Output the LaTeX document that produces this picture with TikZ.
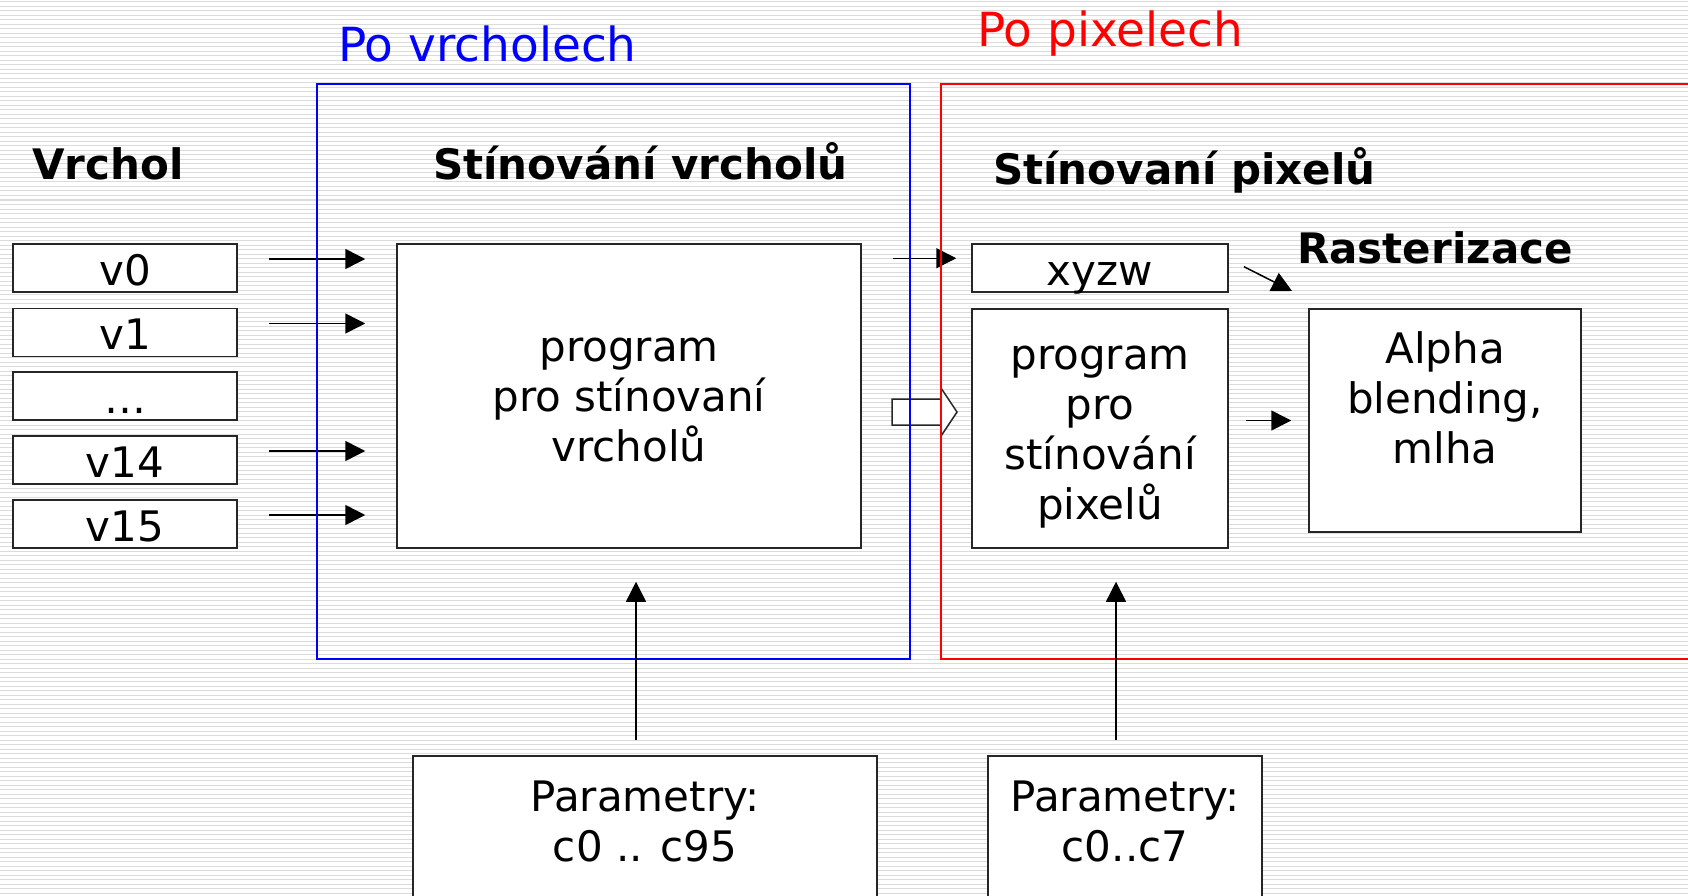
\documentclass[tikz,border=0pt]{standalone}
\usepackage{fontspec}
\setmainfont{DejaVu Sans}
\usetikzlibrary{arrows.meta}

\tikzset{
    blok/.style={draw=black!85, line width=1.5pt, fill=white, inner sep=0pt, align=center,
        font=\fontsize{42}{50}\selectfont},
    maly/.style={blok, minimum height=48, text height=40pt, text depth=6pt},
    textik/.style={inner sep=0pt, align=center, font=\fontsize{42}{50}\selectfont},
    nadpis/.style={inner sep=0pt, anchor=base west, font=\fontsize{42}{50}\selectfont\bfseries},
    sipka/.style={line width=1.5pt, -{Triangle[length=20pt,width=20pt]}},
}

\begin{document}
\begin{tikzpicture}[x=1pt, y=-1pt]
    \useasboundingbox (0,0) rectangle (1688,896);
    \clip (0,0) rectangle (1688,896);
    % pozadi s vodorovnymi linkami
    \fill[white] (0,0) rectangle (1688,896);
    \foreach \y in {2,6.5,...,896}
        \draw[black!14, line width=1pt] (0,\y) -- (1688,\y);

    % vrcholy
    \node[nadpis] at (32,180) {Vrchol};
    \node[maly, minimum width=224] (v0) at (125,268) {v0};
    \node[maly, minimum width=224] (v1) at (125,332.5) {v1};
    \node[maly, minimum width=224] (vdots) at (125,396) {…};
    \node[maly, minimum width=224] (v14) at (125,460) {v14};
    \node[maly, minimum width=224] (v15) at (125,524) {v15};

    % stinovani vrcholu
    \node[nadpis] at (433,180) {Stínování vrcholů};
    \node[blok, minimum width=464, minimum height=304] (prog) at (629,396) {};
    \node[textik] (progtext) at (629,400) {program\\pro stínovaní\\vrcholů};
    \foreach \v in {v0,v1,v14,v15}
        \draw[sipka, shorten <=31pt, shorten >=31pt]
            ([yshift=9pt]\v.east) -- ([yshift=9pt]\v.east -| prog.west);

    % stinovani pixelu
    \node[nadpis] at (993,185) {Stínovaní pixelů};
    \node[maly, minimum width=256] (xyzw) at (1100,268) {xyzw};
    \node[blok, minimum width=256, minimum height=239] (pprog) at (1100,428.5) {};
    \node[textik] (pprogtext) at (1100,437) {program\\pro\\stínování\\pixelů};
    \draw[sipka, shorten <=31pt, shorten >=15pt]
        ([yshift=-15pt]prog.north east) -- ([yshift=-15pt]prog.north east -| xyzw.west);
    % siroka sipka
    \draw[draw=black!85, line width=1.5pt, fill=white]
        (892,399) -- (941,399) -- (941,388) -- (957,412) -- (941,436) -- (941,425)
        -- (892,425) -- cycle;

    % rasterizace
    \node[nadpis] at (1297,263) {Rasterizace};
    \node[blok, minimum width=272, minimum height=223] (alfa) at (1445,420.5) {};
    \node[textik] (alfatext) at (1445,398) {Alpha\\blending,\\mlha};
    \coordinate (rast) at (1292,291);
    \draw[sipka, shorten <=17pt] ([yshift=9pt]xyzw.east) -- (rast);
    \draw[sipka, shorten <=17pt, shorten >=17pt] (pprog.east |- alfa.west) -- (alfa.west);

    % ramecky
    \draw[blue, line width=2pt] (316.5,84) rectangle (909.5,659);
    \draw[red, line width=2pt] (941,84) rectangle (1720,659);
    \node[inner sep=0pt, anchor=base west, blue, font=\fontsize{47}{56}\selectfont]
        at (338,62) {Po vrcholech};
    \node[inner sep=0pt, anchor=base west, red, font=\fontsize{47}{56}\selectfont]
        at (977,47) {Po pixelech};

    % parametry
    \node[blok, minimum width=464, minimum height=180] (par1) at (645,846) {};
    \node[textik] at (645,821) {Parametry:\\c0 .. c95};
    \node[blok, minimum width=274, minimum height=180] (par2) at (1125,846) {};
    \node[textik] at (1125,821) {Parametry:\\c0..c7};
    \draw[sipka, shorten <=15pt, shorten >=33pt]
        ([xshift=-9pt]par1.north) -- ([xshift=-9pt]par1.north |- prog.south);
    \draw[sipka, shorten <=15pt, shorten >=33pt]
        ([xshift=-9pt]par2.north) -- ([xshift=-9pt]par2.north |- pprog.south);
\end{tikzpicture}
\end{document}
